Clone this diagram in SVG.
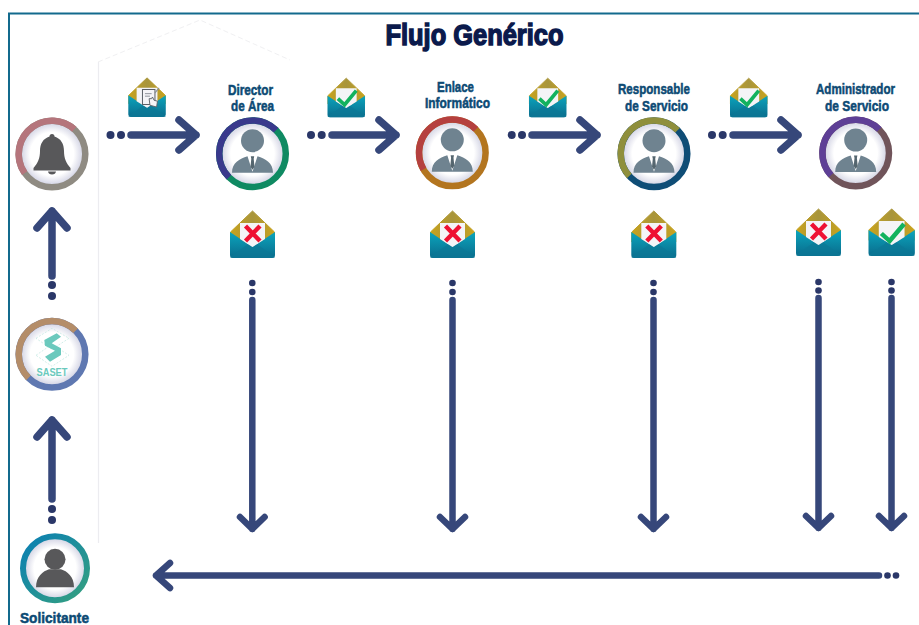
<svg xmlns="http://www.w3.org/2000/svg" width="919" height="625" viewBox="0 0 919 625">
<style>
text{font-family:"Liberation Sans",Arial,sans-serif;font-weight:700;text-anchor:middle}
.title{font-size:30px;fill:#0b1a4c;stroke:#0b1a4c;stroke-width:1.500px}
.lbl{font-size:15.500px;fill:#0c4a74;stroke:#0c4a74;stroke-width:.55px}
.ln{fill:none;stroke:#36477a;stroke-width:6.500;stroke-linecap:round;stroke-linejoin:round}
.ln2{stroke-width:7.500}
.dot{fill:#2a3768}
.base{fill:none;stroke-width:6.500}
.arc{fill:none;stroke-width:6.500;stroke-dasharray:180 360}
.face{fill:url(#face)}
.mark{fill:none;stroke-linecap:butt;stroke-linejoin:miter}
</style>
<defs>
<radialGradient id="face"><stop offset=".7" stop-color="#fff"/><stop offset="1" stop-color="#d3d4e4"/></radialGradient>
<linearGradient id="gold" x1="0" y1="0" x2="1" y2="0"><stop offset="0" stop-color="#c9a31c"/><stop offset=".5" stop-color="#a8953c"/><stop offset="1" stop-color="#c9a31c"/></linearGradient>
<linearGradient id="teal" x1="0" y1="0" x2="0" y2="1"><stop offset="0" stop-color="#0ba5bd"/><stop offset="1" stop-color="#0a6c8c"/></linearGradient>
<linearGradient id="sol" x1="0" y1="0" x2="1" y2="1"><stop offset="0" stop-color="#0a7fb4"/><stop offset="1" stop-color="#35a07f"/></linearGradient>
<g id="env">
<path d="M22.500 1L44.500 22V32H.5V22Z" fill="url(#gold)" stroke="url(#gold)" stroke-linejoin="round"/>
<path d="M0 22L22.500 37L45 22V45Q45 48 42 48H3Q0 48 0 45Z" fill="url(#teal)"/>
<path d="M0 47L22.500 31L45 47Q45 48 42 48H3Q0 48 0 47Z" fill="#0b7895" opacity=".7"/>
<path d="M10 13H35V29L22.500 37L10 29Z" fill="#f4f4f7"/>
</g>
<path id="x" class="mark" d="M15.500 16L30 31M30 16L15.500 31" stroke="#ee1133" stroke-width="4.400"/>
<path id="ok" class="mark" d="M12.500 25.500L20.500 33L34.500 16" stroke="#12b25e" stroke-width="4.400"/>
<g id="person">
<circle cx="0" cy="-13" r="11.500" fill="#6f8390"/>
<path d="M-20.500 19C-20.500 9-13 5-5 2.500L0 18L5 2.500C13 5 20.500 9 20.500 19Z" fill="#6f8390"/>
<path d="M-1.700 2.500H1.700L1.200 5L2 13L0 16L-2 13L-1.200 5Z" fill="#55666f"/>
</g>
</defs>
<rect width="919" height="625" fill="#fff"/>
<path d="M9 625V13.500H919" fill="none" stroke="#136a8d" stroke-width="2"/>
<path d="M98.500 62V543" stroke="#ececf0" stroke-width="1.200" fill="none"/>
<path d="M98 62L200 20L290 60" stroke="#f0f0f2" stroke-width="1" stroke-dasharray="5 3" fill="none"/>
<text class="title" x="474.500" y="44.500" textLength="178" lengthAdjust="spacingAndGlyphs">Flujo Genérico</text>

<g id="connectors">
<g id="c-h1"><circle class="dot" cx="110.500" cy="135" r="4"/><circle class="dot" cx="121" cy="135" r="4"/><path class="ln ln2" d="M131 135H196M179 120L196 135L179 150"/></g>
<g id="c-h2"><circle class="dot" cx="311" cy="135" r="4"/><circle class="dot" cx="321.700" cy="135" r="4"/><path class="ln ln2" d="M332 135H396M379 120L396 135L379 150"/></g>
<g id="c-h3"><circle class="dot" cx="511.700" cy="135" r="4"/><circle class="dot" cx="522" cy="135" r="4"/><path class="ln ln2" d="M532 135H597M580 120L597 135L580 150"/></g>
<g id="c-h4"><circle class="dot" cx="712" cy="135" r="4"/><circle class="dot" cx="722.700" cy="135" r="4"/><path class="ln ln2" d="M733 135H798M781 120L798 135L781 150"/></g>
<g id="c-u1"><circle class="dot" cx="52" cy="285" r="4"/><circle class="dot" cx="52" cy="296" r="4"/><path class="ln ln2" d="M52 276V211M37 228L52 211L67 228"/></g>
<g id="c-u2"><circle class="dot" cx="52" cy="509" r="4"/><circle class="dot" cx="52" cy="520" r="4"/><path class="ln ln2" d="M52 499V420M37 437L52 420L67 437"/></g>
<g id="c-d1"><circle class="dot" cx="252.300" cy="283" r="3.300"/><circle class="dot" cx="252.300" cy="292" r="3.300"/><path class="ln" d="M252.300 300V529M240 517L252.300 529L264.600 517"/></g>
<g id="c-d2"><circle class="dot" cx="452.500" cy="283" r="3.300"/><circle class="dot" cx="452.500" cy="292" r="3.300"/><path class="ln" d="M452.500 300V529M440 517L452.500 529L465 517"/></g>
<g id="c-d3"><circle class="dot" cx="653.500" cy="283" r="3.300"/><circle class="dot" cx="653.500" cy="292" r="3.300"/><path class="ln" d="M653.500 300V529M641 517L653.500 529L666 517"/></g>
<g id="c-d4"><circle class="dot" cx="818.500" cy="282" r="3.300"/><circle class="dot" cx="818.500" cy="290.500" r="3.300"/><path class="ln" d="M818.500 298V528M806 516L818.500 528L831 516"/></g>
<g id="c-d5"><circle class="dot" cx="891.500" cy="282" r="3.300"/><circle class="dot" cx="891.500" cy="290.500" r="3.300"/><path class="ln" d="M891.500 298V528M879 516L891.500 528L904 516"/></g>
<g id="c-b"><circle class="dot" cx="887.500" cy="575.500" r="3.300"/><circle class="dot" cx="896" cy="575.500" r="3.300"/><path class="ln" d="M879 575.500H156M170 563L156 575.500L170 588"/></g>
</g>

<g id="env-1"><g transform="translate(128.300 77) scale(.833)"><use href="#env"/><rect x="17" y="15" width="15" height="18" fill="none" stroke="#5a5f66" stroke-width="1.200"/><path d="M20 20H28M20 23H26" stroke="#7a8088" stroke-width="1"/><path d="M26 34L25 26L28 26L29 24L31 28L35 29L34 36Z" fill="#f4f4f7" stroke="#5a5f66" stroke-width="1.100"/><path d="M32 19L37 13" stroke="#8a8f95" stroke-width="1.400"/></g></g>
<g id="env-2"><g transform="translate(327.500 77.300) scale(.833)"><use href="#env"/><use href="#ok"/></g></g>
<g id="env-3"><g transform="translate(529 77.300) scale(.833)"><use href="#env"/><use href="#ok"/></g></g>
<g id="env-4"><g transform="translate(730 77.300) scale(.833)"><use href="#env"/><use href="#ok"/></g></g>
<g id="env-5"><g transform="translate(230 210)"><use href="#env"/><use href="#x"/></g></g>
<g id="env-6"><g transform="translate(430 210)"><use href="#env"/><use href="#x"/></g></g>
<g id="env-7"><g transform="translate(631.300 210)"><use href="#env"/><use href="#x"/></g></g>
<g id="env-8"><g transform="translate(796 208)"><use href="#env"/><use href="#x"/></g></g>
<g id="env-9"><g transform="translate(868.500 208) scale(1.030 1)"><use href="#env"/><use href="#ok"/></g></g>

<g id="node-campana" transform="translate(52 154)">
<circle class="face" r="31"/>
<circle class="base" r="33.300" stroke="#8f8b82"/>
<circle class="arc" r="33.300" pathLength="360" stroke="#b5757c" transform="rotate(145)" style="stroke-dasharray:167 360"/>
<path d="M-2.500-17.500Q-2.500-20 0-20Q2.500-20 2.500-17.500C9-15.500 12-10 12-3C12 4 14 9 18.500 14V16.500H-18.500V14C-14 9-12 4-12-3C-12-10-9-15.500-2.500-17.500Z" fill="#58585a"/>
<path d="M-4 17.500H4Q3.500 20.500 0 20.500Q-3.500 20.500-4 17.500Z" fill="#58585a"/>
</g>

<g id="node-saset" transform="translate(52 354.300)">
<circle class="face" r="31"/>
<circle class="base" r="33.300" stroke="#5f78b1"/>
<circle class="arc" r="33.300" pathLength="360" stroke="#b48d69" transform="rotate(135)"/>
<path d="M-16-16L0-26L17-16L0-5ZM-16 1L0-10L17 1L0 12Z" fill="none" stroke="#bfe7df" stroke-width=".7" stroke-dasharray="2 1.500"/>
<path d="M-7.700-14.300L4.700-21L9-17.600L-.3-11L9-6V.7L-2 7.400L-7 2.400L3-3.600L-7-8.600Z" fill="#6bc9bd"/>
<text x="0" y="21.500" font-size="11" fill="#6bc9bd" textLength="31" lengthAdjust="spacingAndGlyphs">SASET</text>
</g>

<g id="node-solicitante">
<g transform="translate(55 568.300)">
<circle class="face" r="30"/>
<circle r="32" fill="none" stroke="url(#sol)" stroke-width="6"/>
<circle cx="0" cy="-9" r="10.500" fill="#58585a"/>
<path d="M-19 19C-19 8-12 3-6 1H6C12 3 19 8 19 19Z" fill="#58585a"/>
</g>
<text class="lbl" x="54.500" y="623" textLength="69" lengthAdjust="spacingAndGlyphs">Solicitante</text>
</g>

<g id="node-director">
<text class="lbl" x="250.500" y="95" textLength="45" lengthAdjust="spacingAndGlyphs">Director</text>
<text class="lbl" x="252.500" y="111" textLength="43" lengthAdjust="spacingAndGlyphs">de Área</text>
<g transform="translate(252.500 153.700)">
<circle class="face" r="31"/>
<circle class="base" r="33.300" stroke="#0f8a62"/>
<circle class="arc" r="33.300" pathLength="360" stroke="#39398c" transform="rotate(135)"/>
<use href="#person"/>
</g>
</g>

<g id="node-enlace">
<text class="lbl" x="455.500" y="92" textLength="37" lengthAdjust="spacingAndGlyphs">Enlace</text>
<text class="lbl" x="457.500" y="108" textLength="65" lengthAdjust="spacingAndGlyphs">Informático</text>
<g transform="translate(452.300 152.800)">
<circle class="face" r="31"/>
<circle class="base" r="33.300" stroke="#b3751f"/>
<circle class="arc" r="33.300" pathLength="360" stroke="#b5403f" transform="rotate(150)" style="stroke-dasharray:165 360"/>
<use href="#person"/>
</g>
</g>

<g id="node-responsable">
<text class="lbl" x="654" y="94" textLength="72" lengthAdjust="spacingAndGlyphs">Responsable</text>
<text class="lbl" x="656.500" y="111" textLength="63" lengthAdjust="spacingAndGlyphs">de Servicio</text>
<g transform="translate(654 153.700)">
<circle class="face" r="31"/>
<circle class="base" r="33.300" stroke="#0f4d76"/>
<circle class="arc" r="33.300" pathLength="360" stroke="#8f8f3c" transform="rotate(138)" style="stroke-dasharray:177 360"/>
<use href="#person"/>
</g>
</g>

<g id="node-administrador">
<text class="lbl" x="855.500" y="94" textLength="79" lengthAdjust="spacingAndGlyphs">Administrador</text>
<text class="lbl" x="857" y="111" textLength="64" lengthAdjust="spacingAndGlyphs">de Servicio</text>
<g transform="translate(855.700 153)">
<circle class="face" r="31"/>
<circle class="base" r="33.300" stroke="#70545a"/>
<circle class="arc" r="33.300" pathLength="360" stroke="#5e3f96" transform="rotate(138)" style="stroke-dasharray:177 360"/>
<use href="#person"/>
</g>
</g>
</svg>
